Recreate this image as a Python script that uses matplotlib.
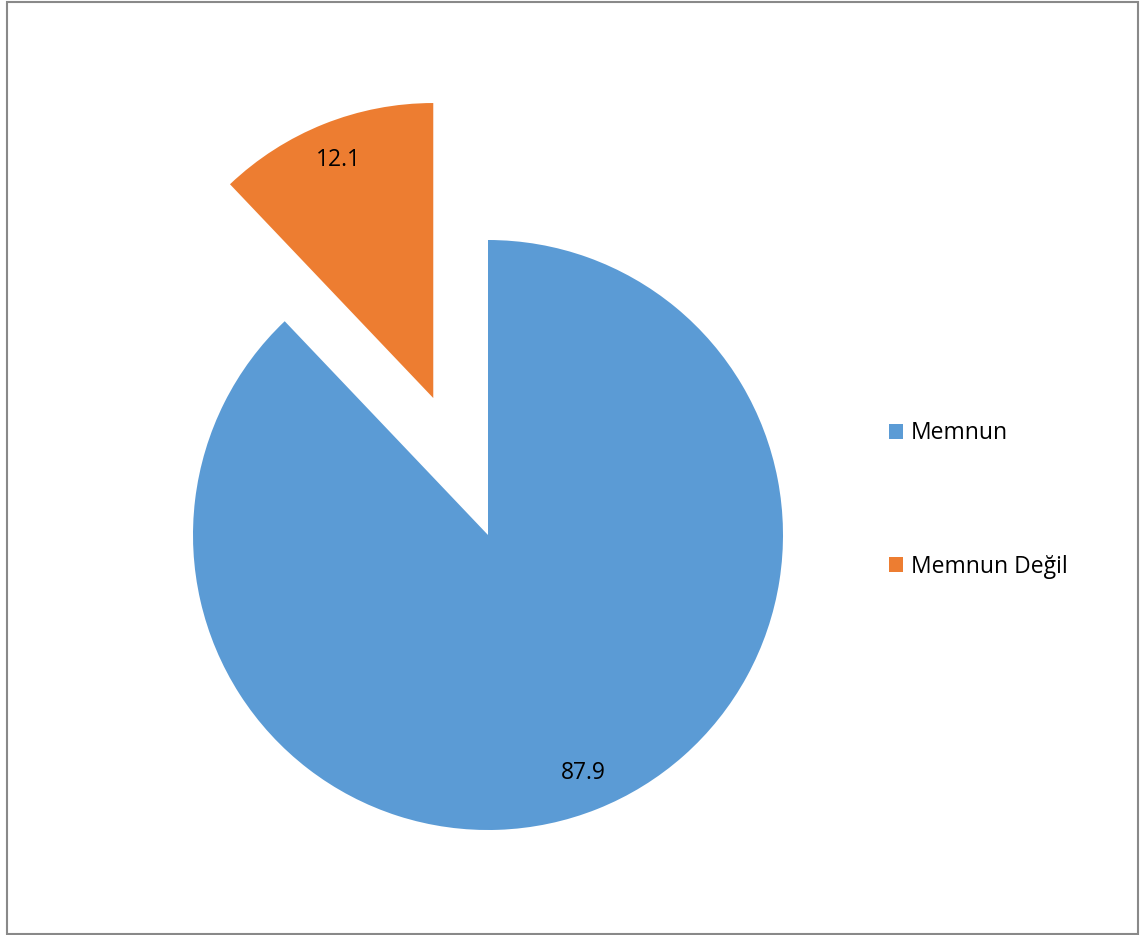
import matplotlib
matplotlib.use("Agg")
import matplotlib.pyplot as plt
from matplotlib.patches import Rectangle, Patch

categories = ["Memnun", "Memnun Değil"]
values = [87.9, 12.1]
colors = ["#5B9BD5", "#ED7D31"]
explode_frac = [0.0, 0.5]

plt.rcParams['font.family'] = ['Open Sans', 'DejaVu Sans']

W, H = 1146, 935
R = 295
fig = plt.figure(figsize=(W / 100, H / 100), dpi=100)
ax = fig.add_axes([0, 0, 1, 1])

wedges, texts, autotexts = ax.pie(
    values, colors=colors, explode=[e * R for e in explode_frac], startangle=90,
    counterclock=False, center=(488, H - 535), radius=R,
    autopct=lambda p: f"{p:.1f}", pctdistance=0.87,
    textprops=dict(fontsize=16.5, color="black"),
    wedgeprops=dict(linewidth=0),
)
ax.set_xlim(0, W)
ax.set_ylim(0, H)
ax.set_aspect('auto')
ax.axis('off')

handles = [Patch(facecolor=c, edgecolor='none') for c in colors]
leg = fig.legend(handles, categories, loc='center left',
                 bbox_to_anchor=(889 / W, 1 - 500 / H), frameon=False,
                 fontsize=16.5, labelspacing=4.78, handlelength=0.62,
                 handleheight=0.62, handletextpad=0.35, borderpad=0, borderaxespad=0)

fig.patches.append(Rectangle((6.5 / W, 1.0 / H), (1137.5 - 6.5) / W, (933 - 1.0) / H,
                             transform=fig.transFigure, fill=False,
                             edgecolor="#898989", linewidth=1.5))

fig.savefig("out.png", dpi=100)
